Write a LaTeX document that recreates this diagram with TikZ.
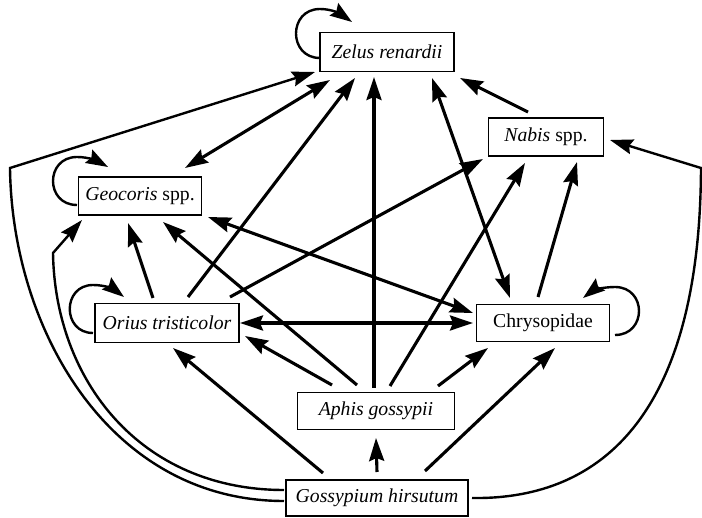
\documentclass[tikz,border=0pt]{standalone}
\usepackage{fontspec}
\setmainfont{Liberation Serif}
\newfontfamily\timesfam{Liberation Serif}
\usetikzlibrary{arrows.meta,calc}
\begin{document}
\begin{tikzpicture}[x=1pt,y=-1pt,
  box/.style={draw,line width=1.6pt,inner sep=0pt,outer sep=0pt,fill=white,font=\timesfam\fontsize{19.7}{23}\selectfont},
  edge/.style={line width=3.1pt,-{Stealth[length=23pt,width=15pt,inset=3pt]}},
  bedge/.style={line width=3.1pt,{Stealth[length=23pt,width=15pt,inset=3pt]}-{Stealth[length=23pt,width=15pt,inset=3pt]}},
  loopedge/.style={line width=2.4pt,-{Stealth[length=22pt,width=15pt,inset=3pt]}},
  curveedge/.style={line width=2.4pt,line join=miter,-{Stealth[length=23pt,width=15pt,inset=3pt]}}]
\useasboundingbox (0,0) rectangle (702,518);

% nodes
\node[box,minimum width=134pt,minimum height=39pt] (zel) at (387,52) {\textit{Zelus renardii}};
\node[box,minimum width=115pt,minimum height=38pt] (nab) at (546,137) {\textit{Nabis} spp.};
\node[box,minimum width=123pt,minimum height=38pt] (geo) at (140,196) {\textit{Geocoris} spp.};
\node[box,minimum width=144pt,minimum height=39pt] (ori) at (167,323) {\textit{Orius tristicolor}};
\node[box,minimum width=133pt,minimum height=37pt] (chr) at (543,323) {Chrysopidae};
\node[box,minimum width=157pt,minimum height=37pt] (aph) at (376,411) {\textit{Aphis gossypii}};
\node[box,minimum width=182pt,minimum height=36pt] (gos) at (377,498) {\textit{Gossypium hirsutum}};

\coordinate (cL) at (10,168);
\coordinate (cL2) at (53,253);
\coordinate (cR) at (701,168);

% outer curves from Gossypium
\draw[curveedge] ($(gos)+(-93,3)$) .. controls (110,501) and (12,330) .. (cL) -- ($(zel)+(-72,20)$);
\draw[curveedge] ($(gos)+(-93,-8)$) .. controls (140,490) and (55,380) .. (cL2) -- ($(geo)+(-58,24)$);
\draw[curveedge] ($(gos)+(95,0)$) .. controls (605,500) and (700,410) .. (cR) -- ($(nab)+(64,3)$);

% self loops
\draw[loopedge] ($(zel)+(-67,6)$) .. controls (288,58) and (288,9) .. (320,9) .. controls (333,9) and (342,15) .. ($(zel)+(-35,-30)$);
\draw[loopedge] ($(geo)+(-63,9)$) .. controls (45,205) and (45,157) .. (77,157) .. controls (90,157) and (99,162) .. ($(geo)+(-32,-29)$);
\draw[loopedge] ($(ori)+(-74,10)$) .. controls (62,333) and (62,285) .. (93,285) .. controls (106,285) and (115,290) .. ($(ori)+(-43,-26)$);
\draw[loopedge] ($(chr)+(72,12)$) .. controls (647,335) and (647,287) .. (615,287) .. controls (602,287) and (592,291) .. ($(chr)+(40,-25)$);

% straight connectors
\draw[edge] ($(gos)+(0,-26)$) -- ($(aph)+(0,27)$);
\draw[edge] ($(gos)+(-54,-25)$) -- ($(ori)+(6,25)$);
\draw[edge] ($(gos)+(48,-27)$) -- ($(chr)+(12,25)$);
\draw[edge] ($(aph)+(-44,-26)$) -- ($(ori)+(78,13)$);
\draw[edge] ($(aph)+(-19,-26)$) -- ($(geo)+(23,26)$);
\draw[edge] ($(aph)+(-2,-23)$) -- ($(zel)+(-13,25)$);
\draw[edge] ($(aph)+(14,-25)$) -- ($(nab)+(-21,26)$);
\draw[edge] ($(aph)+(62,-25)$) -- ($(chr)+(-55,25)$);
\draw[edge] ($(ori)+(-14,-25)$) -- ($(geo)+(-12,27)$);
\draw[edge] ($(ori)+(21,-26)$) -- ($(zel)+(-32,26)$);
\draw[edge] ($(ori)+(63,-26)$) -- ($(nab)+(-63,22)$);
\draw[bedge] ($(ori)+(73,0)$) -- ($(chr)+(-70,0)$);
\draw[bedge] ($(geo)+(45,-28)$) -- ($(zel)+(-57,28)$);
\draw[bedge] ($(geo)+(68,21)$) -- ($(chr)+(-70,-10)$);
\draw[edge] ($(chr)+(-5,-26)$) -- ($(nab)+(31,25)$);
\draw[bedge] ($(chr)+(-33,-25)$) -- ($(zel)+(45,26)$);
\draw[edge] ($(nab)+(-18,-25)$) -- ($(zel)+(73,26)$);
\end{tikzpicture}
\end{document}
